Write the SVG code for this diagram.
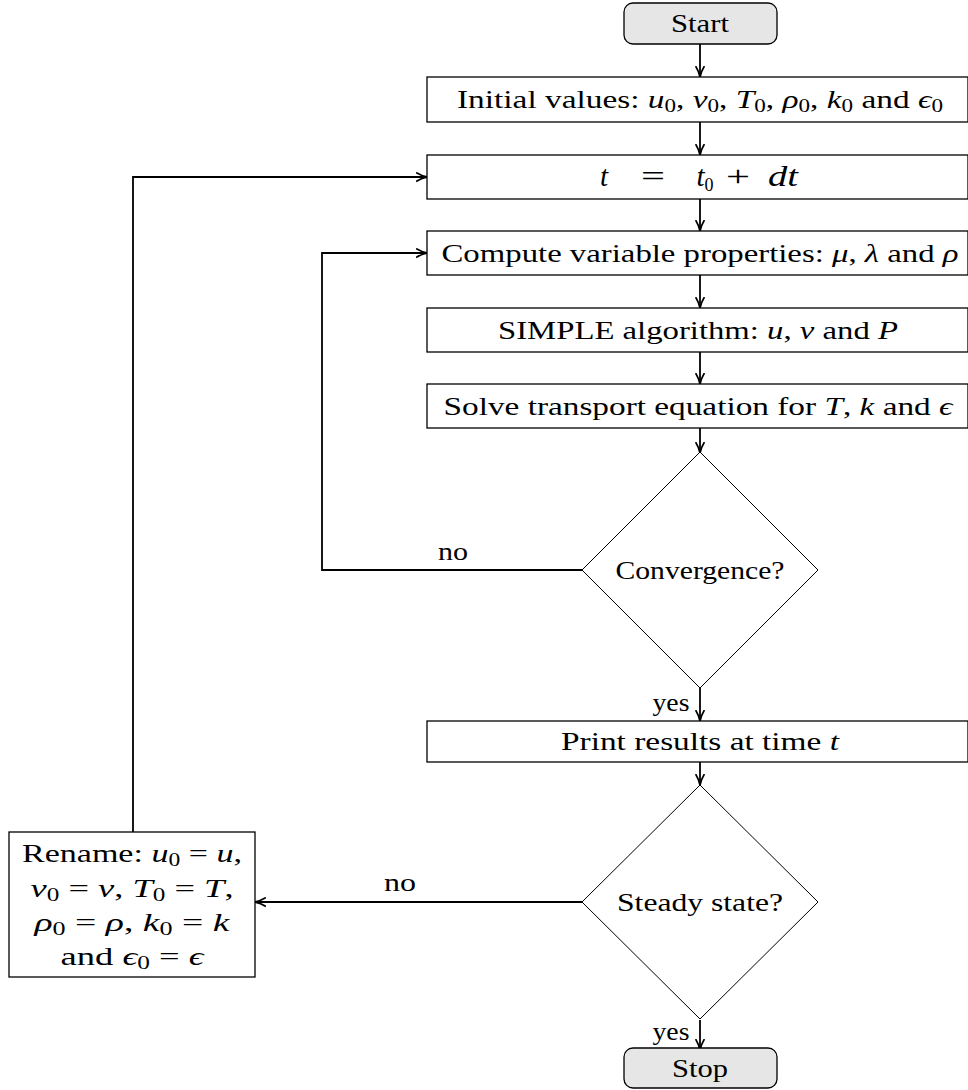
<svg xmlns="http://www.w3.org/2000/svg" width="968" height="1090" viewBox="0 0 968 1090">
<style>
text{font-family:"Liberation Serif","DejaVu Serif",serif;font-size:26px;fill:#000;text-anchor:middle}
.i{font-style:italic}
.s{font-size:18px}
.eq{font-size:29px}
.box{fill:#fff;stroke:#000;stroke-width:1.3}
.term{fill:#e6e6e6;stroke:#000;stroke-width:1.3}
.dia{fill:#fff;stroke:#000;stroke-width:1}
.c{fill:none;stroke:#000;stroke-width:1.8}
.lbl{text-anchor:start}
</style>
<defs>
<marker id="ah" viewBox="0 0 10 10" refX="9" refY="5" markerWidth="11" markerHeight="11" markerUnits="userSpaceOnUse" orient="auto">
<path d="M0,1 Q5,4 10,5 Q5,6 0,9" fill="none" stroke="#000" stroke-width="1.6"/>
</marker>
</defs>
<g id="connectors">
<path class="c" d="M700,44 V76" marker-end="url(#ah)"/>
<path class="c" d="M700,122 V154" marker-end="url(#ah)"/>
<path class="c" d="M700,199 V230" marker-end="url(#ah)"/>
<path class="c" d="M700,275 V307" marker-end="url(#ah)"/>
<path class="c" d="M700,352 V383" marker-end="url(#ah)"/>
<path class="c" d="M700,428 V452" marker-end="url(#ah)"/>
<path class="c" d="M582,570 H322 V253 H426" marker-end="url(#ah)"/>
<path class="c" d="M700,688 V720" marker-end="url(#ah)"/>
<path class="c" d="M700,762 V784" marker-end="url(#ah)"/>
<path class="c" d="M582,902 H256" marker-end="url(#ah)"/>
<path class="c" d="M133,832 V177 H426" marker-end="url(#ah)"/>
<path class="c" d="M700,1020 V1049" marker-end="url(#ah)"/>
<text class="lbl" x="438" y="560" textLength="30" lengthAdjust="spacingAndGlyphs">no</text>
<text x="671" y="711" textLength="37" lengthAdjust="spacingAndGlyphs">yes</text>
<text class="lbl" x="384" y="891" textLength="32" lengthAdjust="spacingAndGlyphs">no</text>
<text x="671" y="1040" textLength="37" lengthAdjust="spacingAndGlyphs">yes</text>
</g>
<g id="start">
<rect class="term" x="624" y="3" width="153" height="41" rx="9"/>
<text x="700" y="32" textLength="58" lengthAdjust="spacingAndGlyphs">Start</text>
</g>
<g id="init">
<rect class="box" x="427" y="77" width="541" height="45"/>
<text x="700" y="108" textLength="486" lengthAdjust="spacingAndGlyphs">Initial values:  <tspan class="i">u</tspan><tspan class="s" dy="4">0</tspan><tspan dy="-4">, </tspan><tspan class="i">v</tspan><tspan class="s" dy="4">0</tspan><tspan dy="-4">, </tspan><tspan class="i">T</tspan><tspan class="s" dy="4">0</tspan><tspan dy="-4">, </tspan><tspan class="i">ρ</tspan><tspan class="s" dy="4">0</tspan><tspan dy="-4">, </tspan><tspan class="i">k</tspan><tspan class="s" dy="4">0</tspan><tspan dy="-4"> and </tspan><tspan class="i">ϵ</tspan><tspan class="s" dy="4">0</tspan></text>
</g>
<g id="time">
<rect class="box" x="427" y="155" width="541" height="44"/>
<text class="i eq" x="604" y="186">t</text>
<text class="eq" x="653" y="186" textLength="24" lengthAdjust="spacingAndGlyphs">=</text>
<text class="eq" x="705" y="186"><tspan class="i">t</tspan><tspan class="s" dy="5">0</tspan></text>
<text class="eq" x="738" y="186" textLength="24" lengthAdjust="spacingAndGlyphs">+</text>
<text class="i eq" x="783" y="186" textLength="30" lengthAdjust="spacingAndGlyphs">dt</text>
</g>
<g id="compute">
<rect class="box" x="427" y="231" width="541" height="44"/>
<text x="700" y="262" textLength="517" lengthAdjust="spacingAndGlyphs">Compute variable properties:  <tspan class="i">μ</tspan>, <tspan class="i">λ</tspan> and <tspan class="i">ρ</tspan></text>
</g>
<g id="simple">
<rect class="box" x="427" y="308" width="541" height="44"/>
<text x="698" y="339" textLength="400" lengthAdjust="spacingAndGlyphs">SIMPLE algorithm:  <tspan class="i">u</tspan>, <tspan class="i">v</tspan> and <tspan class="i">P</tspan></text>
</g>
<g id="solve">
<rect class="box" x="427" y="384" width="541" height="44"/>
<text x="698" y="415" textLength="509" lengthAdjust="spacingAndGlyphs">Solve transport equation for <tspan class="i">T</tspan>, <tspan class="i">k</tspan> and <tspan class="i">ϵ</tspan></text>
</g>
<g id="convergence">
<polygon class="dia" points="700,452 818,570 700,688 582,570"/>
<text x="700" y="579" textLength="169" lengthAdjust="spacingAndGlyphs">Convergence?</text>
</g>
<g id="print">
<rect class="box" x="427" y="721" width="541" height="41"/>
<text x="700" y="750" textLength="278" lengthAdjust="spacingAndGlyphs">Print results at time <tspan class="i">t</tspan></text>
</g>
<g id="steady">
<polygon class="dia" points="700,785 818,902 700,1019 582,902"/>
<text x="700" y="911" textLength="166" lengthAdjust="spacingAndGlyphs">Steady state?</text>
</g>
<g id="rename">
<rect class="box" x="9" y="832" width="246" height="145"/>
<text x="132" y="862" textLength="220" lengthAdjust="spacingAndGlyphs">Rename:  <tspan class="i">u</tspan><tspan class="s" dy="4">0</tspan><tspan dy="-4"> = </tspan><tspan class="i">u</tspan>,</text>
<text x="132" y="897" textLength="203" lengthAdjust="spacingAndGlyphs"><tspan class="i">v</tspan><tspan class="s" dy="4">0</tspan><tspan dy="-4"> = </tspan><tspan class="i">v</tspan>, <tspan class="i">T</tspan><tspan class="s" dy="4">0</tspan><tspan dy="-4"> = </tspan><tspan class="i">T</tspan>,</text>
<text x="132" y="931" textLength="195" lengthAdjust="spacingAndGlyphs"><tspan class="i">ρ</tspan><tspan class="s" dy="4">0</tspan><tspan dy="-4"> = </tspan><tspan class="i">ρ</tspan>, <tspan class="i">k</tspan><tspan class="s" dy="4">0</tspan><tspan dy="-4"> = </tspan><tspan class="i">k</tspan></text>
<text x="132" y="965" textLength="143" lengthAdjust="spacingAndGlyphs">and <tspan class="i">ϵ</tspan><tspan class="s" dy="4">0</tspan><tspan dy="-4"> = </tspan><tspan class="i">ϵ</tspan></text>
</g>
<g id="stop">
<rect class="term" x="624" y="1048" width="153" height="40" rx="9"/>
<text x="700" y="1077" textLength="56" lengthAdjust="spacingAndGlyphs">Stop</text>
</g>
</svg>
